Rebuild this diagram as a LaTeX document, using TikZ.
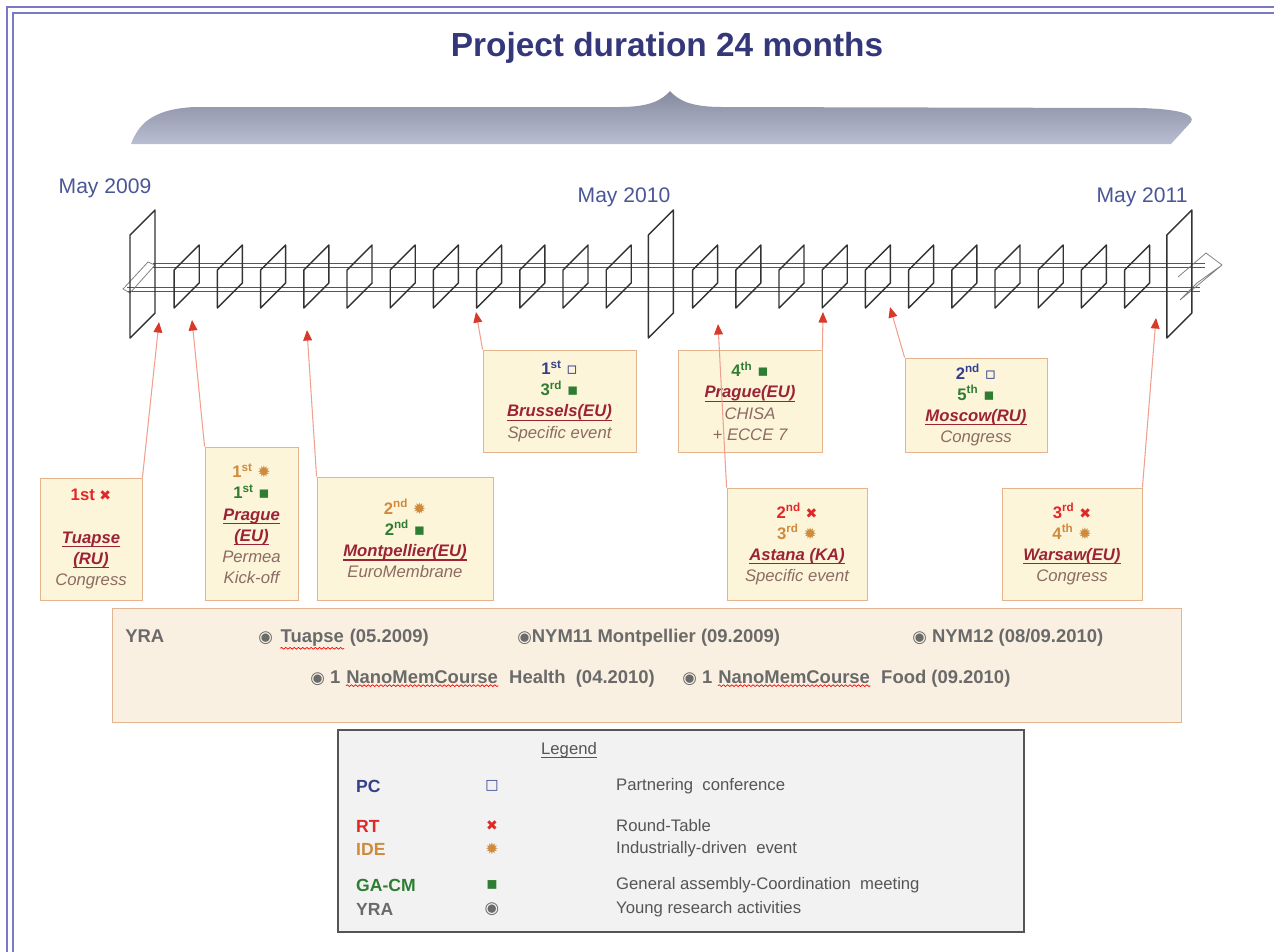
\documentclass[tikz,border=0pt]{standalone}
\usepackage{fontspec}
\setmainfont{Liberation Sans}
\newfontfamily\symfont{DejaVu Sans}
\usetikzlibrary{arrows.meta,positioning,decorations.pathmorphing}

\definecolor{framecol}{HTML}{7A7AC4}
\definecolor{titleblue}{HTML}{343779}
\definecolor{monthblue}{HTML}{4A5696}
\definecolor{braceDark}{HTML}{858AA0}
\definecolor{braceMid}{HTML}{9297AD}
\definecolor{braceLight}{HTML}{BABED2}
\definecolor{planegray}{HTML}{333333}
\definecolor{railgray}{HTML}{555555}
\definecolor{boxfill}{HTML}{FDF5DA}
\definecolor{boxline}{HTML}{E4B48E}
\definecolor{yrafill}{HTML}{FAF0E2}
\definecolor{arrowline}{HTML}{F0A08E}
\definecolor{tipred}{HTML}{D83A2A}
\definecolor{rtred}{HTML}{E02828}
\definecolor{ideorange}{HTML}{CF8A3C}
\definecolor{gagreen}{HTML}{2E7D32}
\definecolor{pcblue}{HTML}{34408E}
\definecolor{placered}{HTML}{9B2335}
\definecolor{descgray}{HTML}{8C6B63}
\definecolor{yragray}{HTML}{6A6A6A}
\definecolor{leggray}{HTML}{555555}
\definecolor{legfill}{HTML}{F2F2F2}

\newcommand\rtmark{{\symfont\fontsize{8}{8}\selectfont\color{rtred}✖}}
\newcommand\idemark{{\symfont\fontsize{9}{9}\selectfont\color{ideorange}✹}}
\newcommand\gamark{{\symfont\color{gagreen}▪}}
\newcommand\pcmark{{\symfont\color{pcblue}▫}}
\newcommand\yramark{{\symfont\fontsize{9.5}{9.5}\selectfont◉}}
\newcommand\ord[3]{\textcolor{#1}{\textbf{#2\textsuperscript{#3}}}}
\newcommand\uln[1]{\setbox0\hbox{#1}\rlap{\rule[-2.3pt]{\wd0}{0.7pt}}\box0}
\newcommand\place[1]{\textcolor{placered}{\bfseries\itshape\uln{#1}}}
\newcommand\desc[1]{\textcolor{descgray}{\itshape #1}}

\begin{document}
\begin{tikzpicture}[x=0.02cm,y=-0.02cm,
  evbox/.style={draw=boxline, fill=boxfill, line width=0.5pt, align=center, inner sep=0pt,
    font=\fontsize{9.5}{12}\selectfont},
  evarrow/.style={draw=arrowline, line width=0.6pt, -{Triangle[length=6pt,width=5pt,color=tipred]}},
  plane/.style={draw=planegray, line width=0.8pt, line join=round},
  rail/.style={draw=railgray, line width=0.45pt},
  month/.style={text=monthblue, font=\fontsize{12}{14}\selectfont},
  yratext/.style={text=yragray, anchor=base west, inner sep=0pt, font=\fontsize{10.5}{12}\selectfont\bfseries},
  spell/.style={draw=red, line width=0.4pt, decorate, decoration={snake, amplitude=0.5pt, segment length=2.4pt}},
  legabbr/.style={anchor=west, font=\fontsize{10}{12}\selectfont\bfseries},
  legtext/.style={text=leggray, anchor=west, font=\fontsize{9.5}{12}\selectfont}]

\useasboundingbox (0,0) rectangle (1274,951);
\clip (0,0) rectangle (1274,951);

\draw[framecol, line width=1pt, double=white, double distance=2pt] (10,10) rectangle (1300,990);

\node[text=titleblue, font=\fontsize{19}{23}\selectfont\bfseries] (title) at (667,48) {Project duration 24 months};

% the brace over the two years
\shade[top color=braceDark, middle color=braceMid, bottom color=braceLight]
  (131,144) .. controls (138,126) and (150,109) .. (195,107) -- (620,107)
  .. controls (650,107) and (662,100) .. (670,91)
  .. controls (678,100) and (690,107) .. (722,107) -- (1140,108)
  .. controls (1178,109) and (1196,114) .. (1191,122) -- (1171,144) -- cycle;

\node[month] (may09) at (105,188) {May 2009};
\node[month] (may10) at (624,197) {May 2010};
\node[month] (may11) at (1142,197) {May 2011};

% time axis
\draw[rail] (153,263) -- (1205,263) (153,267) -- (1205,267);
\draw[rail] (127,287) -- (1200,287) (127,291) -- (1200,291);
\draw[rail, draw=gray] (123,289) -- (148,262) -- (155,265) -- (130,293) -- cycle;
\draw[rail, draw=gray] (1178,277) -- (1206,253) -- (1222,265) -- (1180,300) -- (1197,283) -- (1222,265);

\foreach \i in {1,...,23} {
  \ifnum\i=12 \else
    \draw[plane] ({131+43.2*\i},308) -- ++(0,-38) -- ++(25,-25) -- ++(0,38) -- cycle;
  \fi
}
\foreach \i in {0,12,24}
  \draw[plane] ({130+43.2*\i},338) -- ++(0,-103) -- ++(25,-25) -- ++(0,103) -- cycle;

\coordinate (tipTuapse) at (159,322);
\coordinate (tipPrague) at (192,320);
\coordinate (tipMontp) at (307,330);
\coordinate (tipBrussels) at (476,312);
\coordinate (tipAstana) at (718,324);
\coordinate (tipChisa) at (823,312);
\coordinate (tipMoscow) at (890,307);
\coordinate (tipWarsaw) at (1156,318);

\node[evbox, minimum width=2.04cm, minimum height=2.44cm] (tuapse) at (91,539)
  {\textcolor{rtred}{\textbf{1st} \rtmark}\\[12pt]\place{Tuapse}\\\place{(RU)}\\\desc{Congress}};
\node[evbox, minimum width=1.86cm, minimum height=3.06cm] (prague) at (251.5,523.5)
  {\ord{ideorange}{1}{st} \idemark\\\ord{gagreen}{1}{st} \gamark\\\place{Prague}\\\place{(EU)}\\\desc{Permea}\\\desc{Kick-off}};
\node[evbox, minimum width=3.52cm, minimum height=2.46cm] (montp) at (405,538.5)
  {\ord{ideorange}{2}{nd} \idemark\\\ord{gagreen}{2}{nd} \gamark\\\place{Montpellier(EU)}\\\desc{EuroMembrane}};
\node[evbox, minimum width=3.06cm, minimum height=2.04cm] (brussels) at (559.5,401)
  {\ord{pcblue}{1}{st} \pcmark\\\ord{gagreen}{3}{rd} \gamark\\\place{Brussels(EU)}\\\desc{Specific event}};
\node[evbox, minimum width=2.88cm, minimum height=2.04cm] (chisa) at (750,401)
  {\ord{gagreen}{4}{th} \gamark\\\place{Prague(EU)}\\\desc{CHISA}\\\desc{+ ECCE 7}};
\node[evbox, minimum width=2.84cm, minimum height=1.88cm] (moscow) at (976,405)
  {\ord{pcblue}{2}{nd} \pcmark\\\ord{gagreen}{5}{th} \gamark\\\place{Moscow(RU)}\\\desc{Congress}};
\node[evbox, minimum width=2.8cm, minimum height=2.24cm] (astana) at (797,544)
  {\ord{rtred}{2}{nd} \rtmark\\\ord{ideorange}{3}{rd} \idemark\\\place{Astana (KA)}\\\desc{Specific event}};
\node[evbox, minimum width=2.8cm, minimum height=2.24cm] (warsaw) at (1072,544)
  {\ord{rtred}{3}{rd} \rtmark\\\ord{ideorange}{4}{th} \idemark\\\place{Warsaw(EU)}\\\desc{Congress}};

\draw[evarrow] (tuapse.north east) -- (tipTuapse);
\draw[evarrow] (prague.north west) -- (tipPrague);
\draw[evarrow] (montp.north west) -- (tipMontp);
\draw[evarrow] (brussels.north west) -- (tipBrussels);
\draw[evarrow] (astana.north west) -- (tipAstana);
\draw[evarrow] (chisa.north east) -- (tipChisa);
\draw[evarrow] (moscow.north west) -- (tipMoscow);
\draw[evarrow] (warsaw.north east) -- (tipWarsaw);

% young researchers
\node[draw=boxline, fill=yrafill, line width=0.5pt, minimum width=21.4cm, minimum height=2.28cm] (yrabox) at (647,665) {};
\node[yratext] (yra) at (125,642) {YRA};
\node[yratext] (yra1) at (258,642) {\yramark};
\node[yratext] (tuapseW) at ([xshift=4pt]yra1.base east) {Tuapse};
\node[yratext] (yra1d) at ([xshift=3pt]tuapseW.base east) {(05.2009)};
\node[yratext] (yra2) at (517,642) {\yramark NYM11 Montpellier (09.2009)};
\node[yratext] (yra3) at (912,642) {\yramark\ NYM12 (08/09.2010)};
\node[yratext] (yra4) at (310,683) {\yramark\ 1};
\node[yratext] (nanoA) at ([xshift=3pt]yra4.base east) {NanoMemCourse};
\node[yratext] (yra4d) at ([xshift=6pt]nanoA.base east) {Health\ \ (04.2010)};
\node[yratext] (yra5) at (682,683) {\yramark\ 1};
\node[yratext] (nanoB) at ([xshift=3pt]yra5.base east) {NanoMemCourse};
\node[yratext] (yra5d) at ([xshift=6pt]nanoB.base east) {Food (09.2010)};
\draw[spell] ([yshift=-1.2pt]tuapseW.south west) -- ([yshift=-1.2pt]tuapseW.south east);
\draw[spell] ([yshift=-1.2pt]nanoA.south west) -- ([yshift=-1.2pt]nanoA.south east);
\draw[spell] ([yshift=-1.2pt]nanoB.south west) -- ([yshift=-1.2pt]nanoB.south east);

% legend
\node[draw=leggray, fill=legfill, line width=1pt, minimum width=13.72cm, minimum height=4.04cm] (legend) at (681,831) {};
\node[text=leggray, font=\fontsize{9.5}{12}\selectfont] (leghead) at (569,750) {\uln{Legend}};
\node[legabbr, text=pcblue] (pcab) at (350,786) {PC};
\node (pcsym) at (492,786) {{\symfont\fontsize{8}{8}\selectfont\color{pcblue}□}};
\node[legtext] (pcdesc) at (610,786) {Partnering\ \ conference};
\node[legabbr, text=rtred] (rtab) at (350,826) {RT};
\node (rtsym) at (492,826) {\rtmark};
\node[legtext] (rtdesc) at (610,826) {Round-Table};
\node[legabbr, text=ideorange] (ideab) at (350,849) {IDE};
\node (idesym) at (492,849) {\idemark};
\node[legtext] (idedesc) at (610,849) {Industrially-driven\ \ event};
\node[legabbr, text=gagreen] (gaab) at (350,885) {GA-CM};
\node (gasym) at (492,885) {\gamark};
\node[legtext] (gadesc) at (610,885) {General assembly-Coordination\ \ meeting};
\node[legabbr, text=yragray] (yraab) at (350,909) {YRA};
\node (yrasym) at (492,909) {\textcolor{yragray}{\yramark}};
\node[legtext] (yradesc) at (610,909) {Young research activities};
\end{tikzpicture}
\end{document}
